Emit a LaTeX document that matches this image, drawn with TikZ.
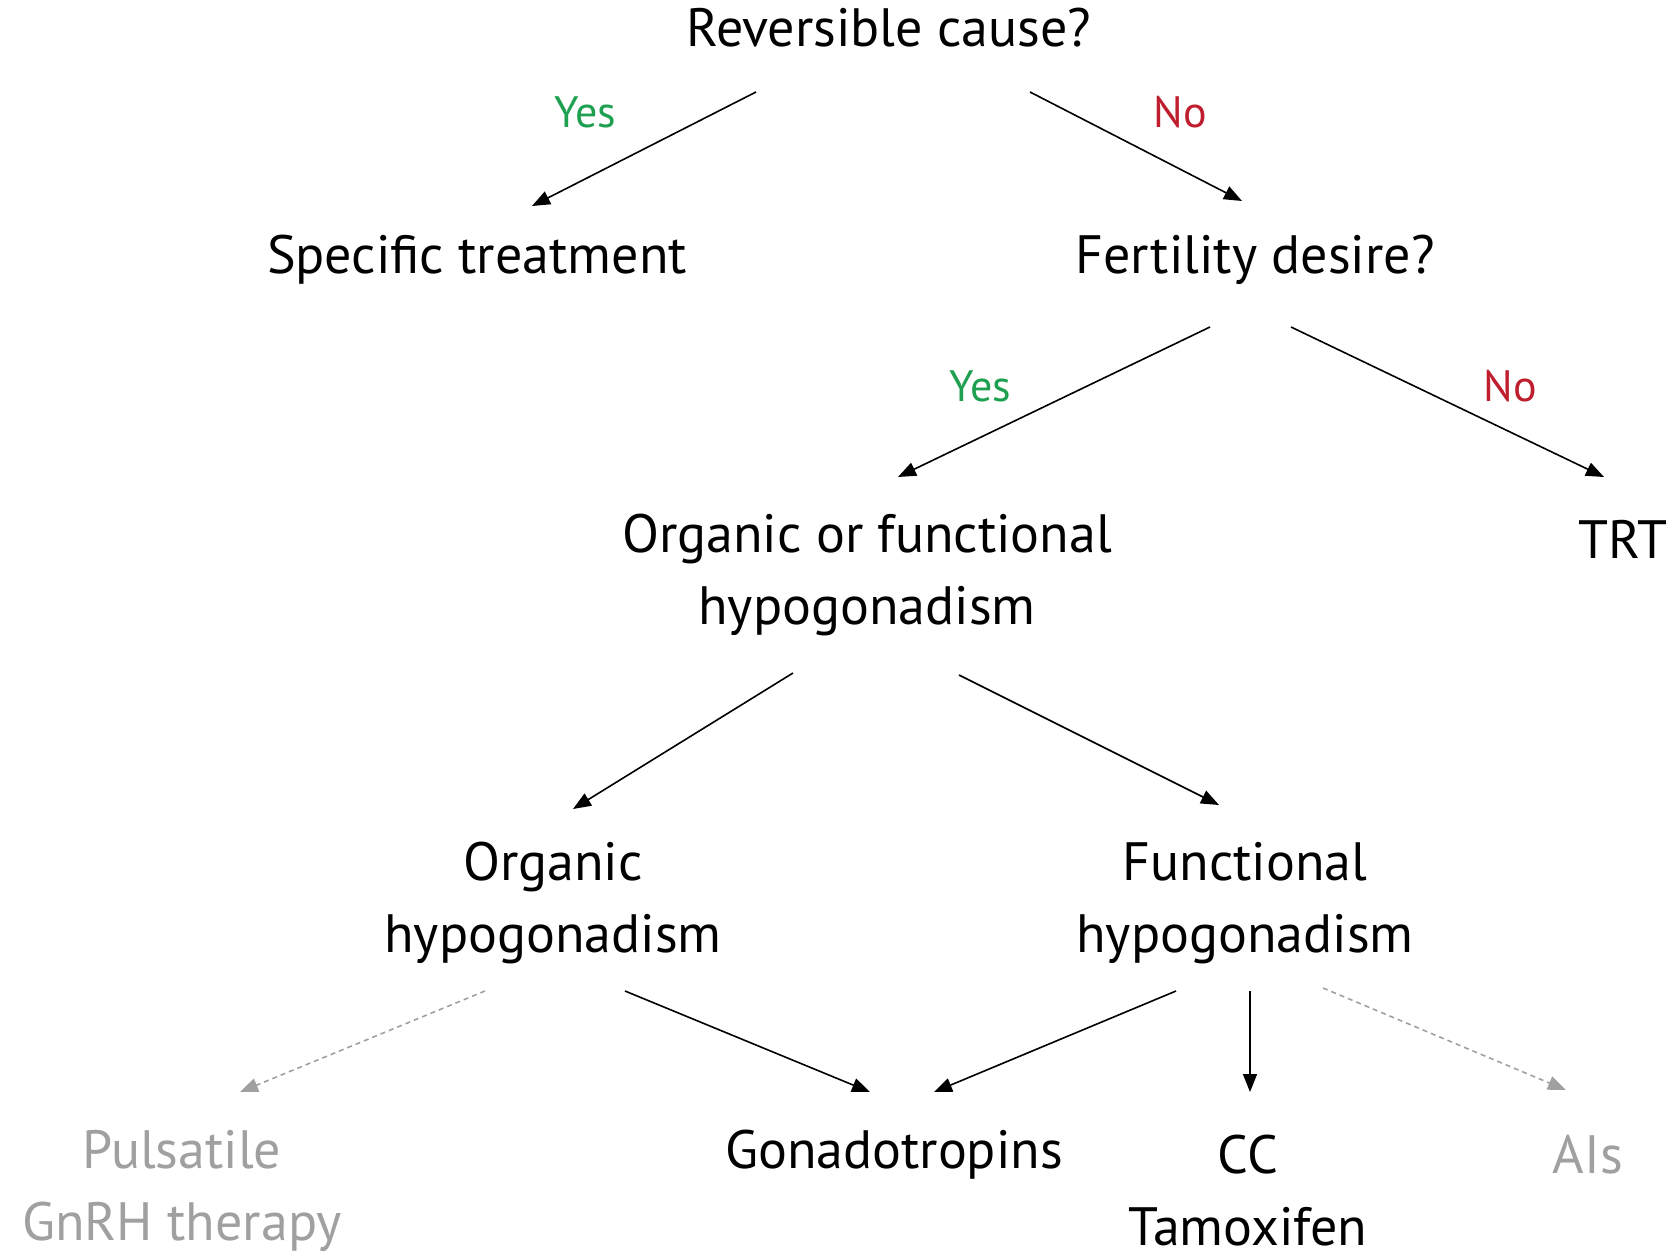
\documentclass[tikz,border=0pt]{standalone}
\usepackage{fontspec}
\setmainfont{PT Sans}
\usetikzlibrary{arrows.meta}
\definecolor{yes}{RGB}{30,160,80}
\definecolor{no}{RGB}{190,30,45}
\definecolor{gr}{RGB}{160,160,160}
\begin{document}
\begin{tikzpicture}[x=1pt,y=-1pt,
  t/.style={font=\fontsize{54}{72}\selectfont,align=center,inner sep=0},
  lab/.style={font=\fontsize{44}{50}\selectfont,inner sep=0},
  ar/.style={-{Triangle[length=18pt,width=14pt]},line width=1.6pt},
  da/.style={ar,gr,dashed,dash pattern=on 5pt off 4pt}]
\useasboundingbox (0,0) rectangle (1679,1260);
\node[t] (rc) at (889,28) {Reversible cause?};
\node[t] (st) at (477,260) {Specific treatment};
\node[t] (fd) at (1255,260) {Fertility desire?};
\node[t] (of) at (867,575) {Organic or functional\\hypogonadism};
\node[t] (trt) at (1623,539) {TRT};
\node[t] (oh) at (553,903) {Organic\\hypogonadism};
\node[t] (fh) at (1245,903) {Functional\\hypogonadism};
\node[t,gr] (pg) at (182,1191) {Pulsatile\\GnRH therapy};
\node[t] (go) at (894,1155) {Gonadotropins};
\node[t] (cc) at (1248,1191) {CC\\Tamoxifen};
\node[t,gr] (ai) at (1588,1155) {AIs};
\node[lab,yes] (y1) at (585,112) {Yes};
\node[lab,no] (n1) at (1180,112) {No};
\node[lab,yes] (y2) at (980,386) {Yes};
\node[lab,no] (n2) at (1510,386) {No};
\foreach \n/\x/\y in {a1/756/92,a2/532/206,b1/1030/92,b2/1242/201,c1/1210/327,c2/898/477,
 d1/1291/327,d2/1604/477,e1/793/673,e2/573/809,f1/959/675,f2/1219/805,g1/485/991,g2/240/1092,
 h1/625/991,h2/870/1092,i1/1176/991,i2/934/1092,j1/1250/991,j2/1250/1092,k1/1323/988,k2/1566/1090}
 \coordinate (\n) at (\x,\y);
\draw[ar] (a1)--(a2); \draw[ar] (b1)--(b2); \draw[ar] (c1)--(c2); \draw[ar] (d1)--(d2);
\draw[ar] (e1)--(e2); \draw[ar] (f1)--(f2); \draw[da] (g1)--(g2); \draw[ar] (h1)--(h2);
\draw[ar] (i1)--(i2); \draw[ar] (j1)--(j2); \draw[da] (k1)--(k2);
\end{tikzpicture}
\end{document}
